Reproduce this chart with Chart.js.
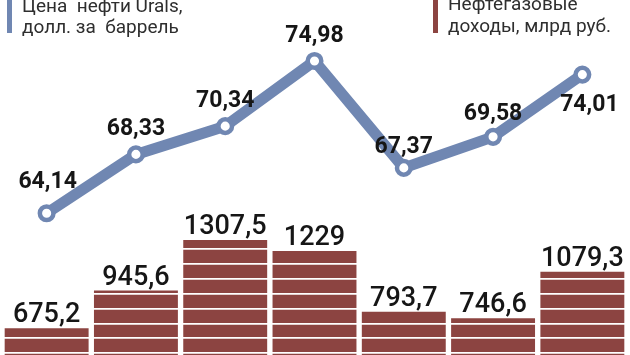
<!DOCTYPE html>
<html>
<head>
<meta charset="utf-8">
<script src="https://cdn.jsdelivr.net/npm/chart.js@4"></script>
<style>
    html, body { margin: 0; padding: 0; background: #fff; overflow: hidden; }
    .wrap { position: relative; width: 630px; height: 355px; }
    .key {
        position: absolute;
        font-family: Roboto, "Noto Sans", sans-serif;
        font-size: 19px;
        line-height: 21px;
        color: #2e2e2e;
        white-space: nowrap;
    }
    .key .mark { position: absolute; left: -15px; top: 0; width: 5px; height: 40px; }
</style>
</head>
<body>
<div class="wrap">
    <canvas id="chart" width="630" height="355"></canvas>
    <div class="key" style="left:22px; top:-5px;"><span class="mark" style="background:#7087b2; top:-2px;"></span>Цена&nbsp; нефти Urals,<br>долл. за&nbsp; баррель</div>
    <div class="key" style="left:448px; top:-7px; line-height:22px;"><span class="mark" style="background:#8c4441; left:-15px; top:0;"></span>Нефтегазовые<br>доходы, млрд руб.</div>
</div>
<script>
const periods = ['1', '2', '3', '4', '5', '6', '7'];
const uralsPrice = [64.14, 68.33, 70.34, 74.98, 67.37, 69.58, 74.01];
const oilGasRevenue = [675.2, 945.6, 1307.5, 1229, 793.7, 746.6, 1079.3];

const lineBlue = '#7087b2';
const barRed = '#8c4441';

// brick stripes over the bars are drawn as white grid lines of the bar axis
const STRIPE_TOP = 1240;
const STRIPE_STEP = 106;

function formatRu(v) {
    return String(v).replace('.', ',');
}

const valueLabels = {
    id: 'valueLabels',
    afterDraw(chart, args, opts) {
        const ctx = chart.ctx;
        ctx.save();
        ctx.textAlign = 'center';
        ctx.fillStyle = '#161616';

        // revenue labels above the bars
        const barMeta = chart.getDatasetMeta(1);
        ctx.font = '500 27px Roboto, "Noto Sans", sans-serif';
        ctx.textBaseline = 'alphabetic';
        barMeta.data.forEach((el, i) => {
            ctx.fillText(formatRu(oilGasRevenue[i]), el.x, el.y - 6);
        });

        // price labels near the points
        const lineMeta = chart.getDatasetMeta(0);
        ctx.font = 'bold 23px Roboto, "Noto Sans", sans-serif';
        lineMeta.data.forEach((el, i) => {
            const off = opts.offsets[i];
            ctx.fillText(formatRu(uralsPrice[i]), el.x + off[0], el.y + off[1]);
        });
        ctx.restore();
    }
};

new Chart(document.getElementById('chart'), {
    data: {
        labels: periods,
        datasets: [
            {
                type: 'line',
                label: 'Цена нефти Urals, долл. за баррель',
                data: uralsPrice,
                yAxisID: 'y1',
                order: 0,
                borderColor: lineBlue,
                borderWidth: 11,
                borderJoinStyle: 'round',
                borderCapStyle: 'round',
                tension: 0,
                pointRadius: 6.8,
                pointBorderWidth: 4.5,
                pointBackgroundColor: '#fff',
                pointBorderColor: lineBlue,
                clip: false
            },
            {
                type: 'bar',
                label: 'Нефтегазовые доходы, млрд руб.',
                data: oilGasRevenue,
                yAxisID: 'y',
                order: 1,
                backgroundColor: barRed,
                barPercentage: 0.94,
                categoryPercentage: 1
            }
        ]
    },
    options: {
        responsive: false,
        animation: false,
        layout: { autoPadding: false, padding: { left: 2, right: 3, top: 0, bottom: 0 } },
        plugins: {
            legend: { display: false },
            tooltip: { enabled: false },
            valueLabels: {
                offsets: [[1, -25], [0, -19], [0, -19], [0, -19], [0, -15], [0, -17], [7, 36]]
            }
        },
        scales: {
            x: { display: false, offset: true },
            y: {
                display: true,
                min: 484,
                max: 3025,
                border: { display: false },
                ticks: { display: false },
                grid: { color: '#ffffff', lineWidth: 1.8, drawTicks: false, z: 1 },
                afterFit(scale) {
                    scale.width = 0;
                },
                afterBuildTicks(scale) {
                    const ticks = [];
                    for (let v = STRIPE_TOP; v > scale.min; v -= STRIPE_STEP) ticks.push({ value: v });
                    scale.ticks = ticks;
                }
            },
            y1: { display: false, min: 54.05, max: 79.32 }
        }
    },
    plugins: [valueLabels]
});
</script>
</body>
</html>
